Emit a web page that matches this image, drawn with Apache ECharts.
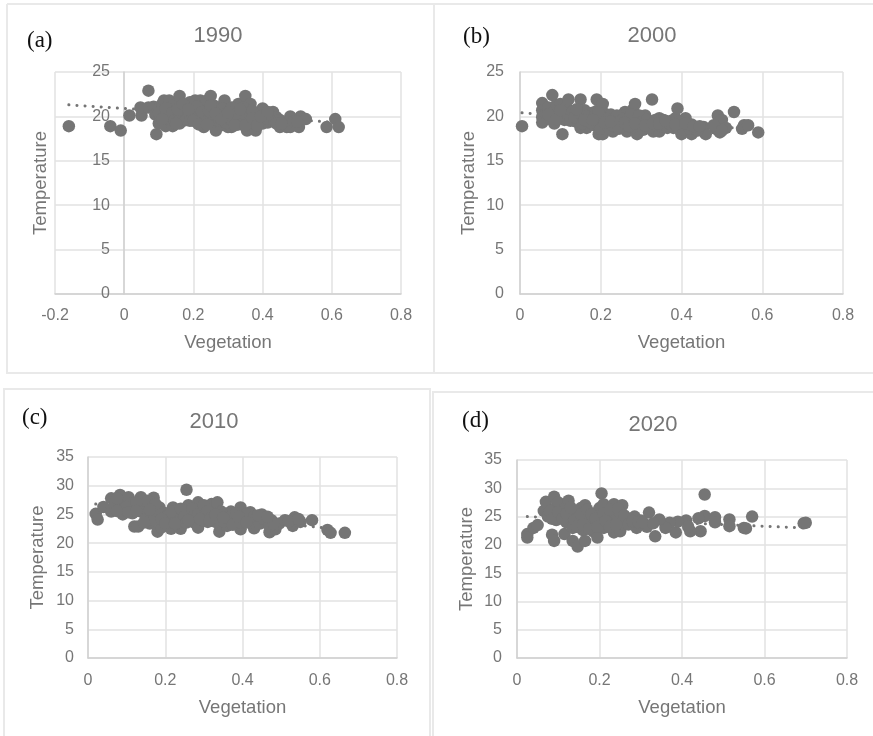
<!DOCTYPE html>
<html><head><meta charset="utf-8">
<style>html,body{margin:0;padding:0;background:#fff}#c{width:873px;height:736px}</style>
<script src="https://cdn.jsdelivr.net/npm/echarts@6/dist/echarts.min.js"></script></head>
<body><div id="c"></div>
<script>
const titles = ['1990','2000','2010','2020'];
const tags = ['(a)','(b)','(c)','(d)'];
const xTitle = 'Vegetation';
const yTitle = 'Temperature';

const pts1990 = [[-.16,18.9],[-.04,18.9],[-.01,18.4],[.015,20.1],[.05,20.1],[.047,21],[.07,22.9],[.093,18],[.585,18.8],[.61,19.7],[.62,18.8],
[.07,21],[.085,21.1],[.09,20.2],[.1,19.2],[.1,20.9],[.11,21.4],[.11,20.4],[.115,21.8],[.12,18.9],[.13,21.8],[.13,20.6],[.13,19.6],[.14,18.9],[.14,21.2],[.15,20.1],[.155,21.6],[.16,22.3],[.16,19.2],[.165,20.8],[.17,19.5],[.18,21.2],[.185,20.1],[.19,21.6],[.2,20.8],[.2,19.9],[.205,21.8],[.215,20.3],[.22,21.8],[.225,19.6],[.23,21],[.23,18.8],[.24,21.8],[.24,20.1],[.25,22.3],[.25,19.3],[.255,20.8],[.265,18.4],[.27,21],[.27,19.9],[.28,20.5],[.28,19],[.29,21.8],[.29,20],[.3,18.8],[.3,21],[.305,19.6],[.31,18.8],[.315,20.6],[.32,19.7],[.33,21.4],[.33,19.1],[.34,20.4],[.345,19.4],[.35,22.3],[.355,18.4],[.36,20.7],[.365,21.4],[.365,19.4],[.375,20.1],[.38,18.4],[.385,19.7],[.39,20.5],[.4,20.9],[.4,19.2],[.41,19.9],[.415,19.3],[.425,20.2],[.43,20.5],[.44,19.9],[.45,18.8],[.46,19.2],[.47,18.8],[.48,20],[.48,18.8],[.505,18.8],[.51,20],[.525,19.7],
[.1,20.4],[.12,19.8],[.12,20.9],[.14,20.4],[.145,19.5],[.16,20.3],[.175,20.5],[.18,19.6],[.19,19.5],[.195,20.6],[.21,21.1],[.21,19.7],[.225,20.5],[.235,19.4],[.245,20.6],[.26,19.7],[.26,21.2],[.275,19.5],[.285,20.9],[.295,19.3],[.31,21],[.31,19.6],[.325,20.3],[.34,19.1],[.345,21],[.355,20],[.355,19.3],[.37,20.6],[.375,19.2],[.39,19.4],[.405,20.1],[.42,19.6],[.435,19.4],[.45,19.6],
[.11,19.7],[.15,19.2],[.155,20.8],[.17,21.4],[.185,20.8],[.2,19.5],[.215,19.1],[.24,19.1],[.25,21.2],[.265,20.3],[.28,19.7],[.3,20.4],[.32,19],[.335,20.8],[.35,19],[.37,19.8],[.385,19],[.395,20],[.415,20.5],[.44,19.2],[.455,19.2],[.49,19.4],[.5,19.4]];
const trend1990 = [[-.16,21.3],[.62,19.3]];

const pts2000 = [[.005,18.9],[.055,21.5],[.055,20.7],[.055,19.9],[.055,19.3],[.065,20.3],[.07,21],[.075,19.7],[.08,22.4],[.085,20.6],[.085,19.2],[.09,21.3],[.095,20],[.1,21.4],[.105,18],[.105,20.5],[.11,19.6],[.115,21],[.12,21.9],[.12,20.2],[.13,19.6],[.14,19.4],[.15,21.9],[.15,18.7],[.15,20],[.16,20.7],[.165,18.7],[.17,19.6],[.18,20.4],[.185,19],[.19,21.9],[.19,20.6],[.195,18],[.2,19.6],[.205,18],[.205,21.4],[.21,20.3],[.215,19],[.225,20.2],[.23,18.3],[.235,19.5],[.25,19],[.26,20.5],[.265,18.3],[.27,19.4],[.28,20.8],[.285,21.4],[.29,18],[.29,19.5],[.3,18.8],[.31,20.1],[.32,19.2],[.327,21.9],[.33,18.3],[.34,19.1],[.345,18.3],[.345,19.8],[.36,19],[.375,19.5],[.38,18.7],[.385,19.8],[.39,20.9],[.4,18],[.4,19.2],[.41,19.8],[.415,18.7],[.425,19.1],[.425,18],[.455,18.8],[.46,18],[.485,18.6],[.49,20.1],[.49,19.2],[.495,18.2],[.5,19.6],[.51,18.7],[.53,20.5],[.55,18.6],[.555,19],[.565,19],[.59,18.2],
[.07,20.2],[.09,19.7],[.1,20.7],[.13,20.5],[.125,19.5],[.135,19.9],[.145,20.4],[.155,19.2],[.165,20],[.175,19.3],[.185,19.9],[.195,20.4],[.195,19],[.2,18.6],[.215,19.7],[.22,18.7],[.23,19],[.24,20.1],[.245,18.6],[.255,19.7],[.265,19],[.275,20.2],[.28,18.8],[.295,20.1],[.3,19.3],[.305,18.5],[.315,19.6],[.32,18.7],[.335,19.6],[.35,18.9],[.355,19.6],[.365,18.7],[.37,19.2],[.395,19.4],[.395,18.6],[.405,18.5],[.42,18.6],[.435,18.6],[.44,18.4],[.48,19],[.5,18.4],
[.14,20.8],[.16,19.6],[.18,19.6],[.21,19.3],[.225,19.4],[.25,19.5],[.26,19.3],[.27,18.9],[.285,19.2],[.31,19],[.33,19.2],[.345,19.2],[.36,19.5],[.385,19.1],[.41,19.2],[.43,18.9],[.445,18.9]];
const trend2000 = [[.005,20.4],[.59,18.5]];

const pts2010 = [[.02,25.1],[.025,24.1],[.04,26.3],[.255,29.3],[.58,24],[.62,22.3],[.628,21.8],[.665,21.8],
[.06,27.8],[.06,25.5],[.07,26.6],[.083,28.4],[.085,27.2],[.09,25],[.095,26],[.105,28],[.11,26.8],[.115,25.2],[.12,22.9],[.13,22.9],[.13,26.2],[.137,28],[.145,26.8],[.15,25.4],[.16,23.4],[.165,26.4],[.17,27.9],[.175,25],[.18,22],[.185,26.2],[.19,22.7],[.195,25.3],[.215,22.5],[.22,26.2],[.225,24.6],[.235,25.4],[.24,22.5],[.245,24],[.26,26.6],[.265,25],[.275,23.6],[.285,27.1],[.285,22.7],[.295,25.6],[.305,24.6],[.31,23.7],[.32,26.8],[.325,25.4],[.335,27.1],[.34,24.4],[.34,22],[.355,25],[.36,23],[.37,25.5],[.38,24],[.395,26.2],[.395,22.4],[.405,24.4],[.42,25.4],[.43,22.6],[.435,24],[.45,25],[.46,23.6],[.47,21.9],[.475,24],[.485,22.4],[.495,23.4],[.51,24],[.53,23],[.535,24.5],[.55,23.7],
[.075,27.8],[.1,26.3],[.125,27.1],[.14,25.4],[.155,27.4],[.155,24.6],[.17,24],[.18,25.6],[.175,26.8],[.2,24.5],[.21,23.6],[.215,25.5],[.23,23.4],[.24,26],[.25,24.6],[.255,23.6],[.27,26],[.275,24.7],[.285,25],[.295,24],[.3,26.6],[.31,25.6],[.32,24.4],[.33,23.7],[.345,25.5],[.35,23.8],[.365,24.4],[.375,23.2],[.385,25.2],[.395,23.6],[.41,25],[.42,23.6],[.43,24.6],[.445,23.4],[.455,24.2],[.47,23],[.48,23.4],[.52,23.8],[.545,24.2],
[.075,25.6],[.105,25.4],[.125,25.6],[.16,25.8],[.19,24.2],[.145,23.6],[.2,23.5],[.225,23.4],[.26,24],[.29,24.2],[.315,24],[.33,25],[.35,24.4],[.39,24.6],[.41,23.6],[.44,24.8],[.465,24.6]];
const trend2010 = [[.02,26.8],[.62,22.6]];

const pts2020 = [[.025,21.9],[.025,21.3],[.04,23],[.05,23.5],[.205,29.1],[.455,28.9],[.57,25],[.695,23.8],[.7,23.9],[.55,23],[.555,22.9],[.515,24.5],[.515,23.3],[.48,24.9],[.48,24],[.455,25.1],[.44,24.7],[.445,22.4],[.42,22.4],[.41,24.3],[.415,23.2],[.385,22.2],[.39,24.1],[.37,23.9],[.36,23],[.335,21.5],[.345,24.5],[.32,25.7],[.315,23.2],[.285,25],[.29,23],[.3,24.3],
[.065,26],[.07,27.6],[.075,25],[.085,21.8],[.09,28.5],[.09,26.4],[.09,20.7],[.095,24.4],[.1,27.5],[.105,25.4],[.115,21.9],[.115,26.4],[.12,24],[.125,27.8],[.13,25.2],[.135,20.7],[.135,23],[.145,25.8],[.147,19.7],[.15,24.2],[.155,26.5],[.16,22.6],[.165,27],[.165,20.7],[.17,25],[.18,23.8],[.185,22.4],[.19,25.6],[.195,21.3],[.2,26.5],[.2,24],[.21,27.2],[.21,23],[.22,25],[.23,24],[.235,27.2],[.235,22.2],[.24,25.6],[.25,22.4],[.25,24.4],[.255,27],[.26,23.6],[.27,24.6],
[.08,26],[.085,24.6],[.1,25.8],[.11,24.6],[.12,25.6],[.13,26.6],[.14,24.4],[.145,23.2],[.155,25.4],[.16,23.6],[.17,26.2],[.175,22.8],[.18,25.4],[.19,24.6],[.195,23.2],[.21,25.6],[.215,24.2],[.225,26.2],[.225,23.2],[.24,23.6],[.245,26.4],[.26,25.2],[.27,23.6],[.28,24.2],[.295,24],[.305,24],[.33,23.8]];
const trend2020 = [[.025,25],[.695,23]];

const xMins = [-.2,0,0,0];
const yMaxes = [25,25,35,35];
const allPts = [pts1990,pts2000,pts2010,pts2020];
const allTrends = [trend1990,trend2000,trend2010,trend2020];

const grids = [
 {left:55,top:72,width:346,height:222,outerBoundsMode:'none'},
 {left:520,top:72,width:323,height:222,outerBoundsMode:'none'},
 {left:88,top:457,width:309,height:201,outerBoundsMode:'none'},
 {left:517,top:460,width:330,height:198,outerBoundsMode:'none'}
];
const yAxisOffset = [-69,0,0,0];
const titlePos = [[218,36],[652,36],[214,422],[653,425]];
const tagPos = [[27,41],[463,37],[22,418],[462,421]];
const yNameGap = [74,42,41,41];
const yLabelMargin = [14,16,14,15];
const xLabelMargin = [14,14,15,15];
const xNameGap = [39,39,40,40];
const frames = [
 [[7,4],[434,4],[434,373],[7,373],[7,4]],
 [[434,4],[873,4]],[[434,373],[873,373]],
 [[4,736],[4,389],[430,389],[430,736]],
 [[433,736],[433,392],[873,392]]
];
const textC='#767676', markC='#757575', gridC='#e2e2e2', fontF='"Liberation Sans",Arial,sans-serif';

const option = {
 animation:false,
 backgroundColor:'#fff',
 title:[
  ...titles.map((t,i)=>({text:t,left:titlePos[i][0],top:titlePos[i][1],textAlign:'center',textVerticalAlign:'middle',padding:0,
    textStyle:{fontFamily:fontF,fontSize:22,fontWeight:'normal',color:textC}})),
  ...tags.map((t,i)=>({text:t,left:tagPos[i][0],top:tagPos[i][1],textVerticalAlign:'middle',padding:0,
    textStyle:{fontFamily:'"Liberation Serif",serif',fontSize:23,fontWeight:'normal',color:'#111'}}))
 ],
 grid:grids,
 xAxis:grids.map((g,i)=>({gridIndex:i,type:'value',min:xMins[i],max:.8,interval:.2,
   name:xTitle,nameLocation:'middle',nameGap:xNameGap[i],nameTextStyle:{fontFamily:fontF,fontSize:18.5,color:textC},
   axisTick:{show:false},axisLine:{show:true,onZero:false,lineStyle:{color:'#d0d0d0',width:1.5}},
   axisLabel:{fontFamily:fontF,fontSize:16,color:textC,margin:xLabelMargin[i],showMinLabel:true,showMaxLabel:true,
     formatter:v=>String(Math.round(v*10)/10)},
   splitLine:{show:true,lineStyle:{color:gridC,width:1.5}}})),
 yAxis:grids.map((g,i)=>({gridIndex:i,type:'value',min:0,max:yMaxes[i],interval:5,position:'left',offset:yAxisOffset[i],
   name:yTitle,nameLocation:'middle',nameGap:yNameGap[i],nameRotate:90,nameTextStyle:{fontFamily:fontF,fontSize:18.5,color:textC},
   axisTick:{show:false},axisLine:{show:true,onZero:false,lineStyle:{color:'#d0d0d0',width:1.5}},
   axisLabel:{fontFamily:fontF,fontSize:16,color:textC,margin:yLabelMargin[i]},
   splitLine:{show:true,lineStyle:{color:gridC,width:1.5}}})),
 series:[
  ...allTrends.map((d,i)=>({type:'line',xAxisIndex:i,yAxisIndex:i,data:d,showSymbol:false,silent:true,z:2,
    lineStyle:{color:markC,width:3,type:[.1,8],cap:'round'}})),
  ...allPts.map((d,i)=>({type:'scatter',xAxisIndex:i,yAxisIndex:i,data:d,symbol:'circle',symbolSize:12.5,z:3,
    itemStyle:{color:markC,opacity:1}}))
 ],
 graphic:frames.map(f=>({type:'polyline',silent:true,z:0,shape:{points:f},style:{stroke:'#e9e9e9',lineWidth:2,fill:null}}))
};
echarts.init(document.getElementById('c'),null,{renderer:'canvas'}).setOption(option);
</script></body></html>
